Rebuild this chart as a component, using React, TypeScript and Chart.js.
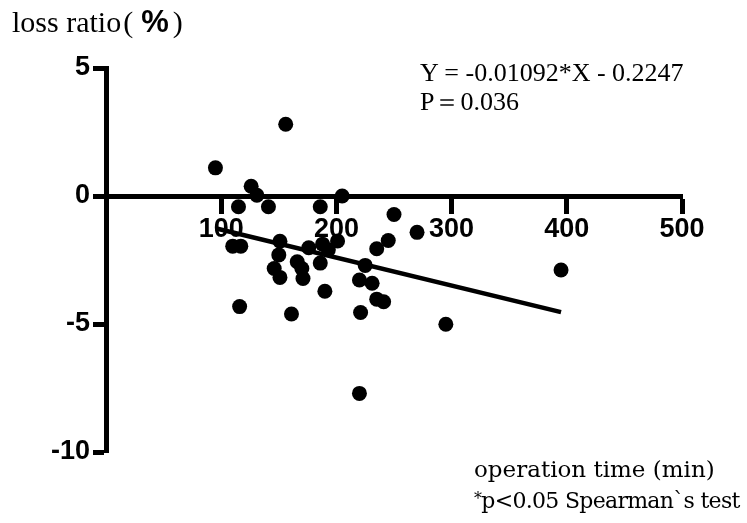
import React, { useEffect, useRef } from "react";
import { Chart, registerables } from "chart.js";

Chart.register(...registerables);

// operation time (min)
const operationTime = [
  95, 156, 126, 131, 115, 141, 186, 205, 250, 270, 245, 235, 201, 188, 176, 151,
  110, 117, 150, 146, 151, 166, 170, 171, 186, 193, 190, 220, 225, 231, 235, 241,
  221, 161, 116, 220, 295, 395,
];
// loss ratio (%)
const lossRatio = [
  1.1, 2.8, 0.38, 0.03, -0.42, -0.42, -0.42, 0.0, -0.72, -1.42, -1.74, -2.06, -1.76,
  -1.88, -2.02, -1.77, -1.96, -1.96, -2.3, -2.83, -3.18, -2.57, -2.83, -3.22, -2.62,
  -2.1, -3.72, -3.28, -2.71, -3.41, -4.03, -4.13, -4.55, -4.61, -4.32, -7.71, -5.01,
  -2.89,
];
// regression line end points
const fitX = [95, 395];
const fitY = [-1.262, -4.538];

const xTicks = [100, 200, 300, 400, 500];
const yTicks = [5, 0, -5, -10];

const W = 747;
const H = 523;

export default function App() {
  const ref = useRef<HTMLCanvasElement | null>(null);

  useEffect(() => {
    if (!ref.current) return;
    const axisFont = { family: "'Liberation Sans', Arial, sans-serif", size: 27, weight: "bold" as const };
    const chart = new Chart(ref.current, {
      type: "scatter",
      data: {
        datasets: [
          {
            label: "data",
            data: operationTime.map((x, i) => ({ x, y: lossRatio[i] })),
            backgroundColor: "#000",
            borderWidth: 0,
            pointRadius: 7.5,
            pointHoverRadius: 7.5,
            clip: false,
          } as any,
          {
            label: "fit",
            type: "line",
            data: fitX.map((x, i) => ({ x, y: fitY[i] })),
            borderColor: "#000",
            borderWidth: 4.5,
            pointRadius: 0,
            showLine: true,
            fill: false,
            clip: false,
          } as any,
        ],
      },
      options: {
        responsive: false,
        animation: false,
        events: [],
        layout: { padding: { left: 0, top: 68, right: 65, bottom: 71 } },
        plugins: { legend: { display: false }, tooltip: { enabled: false }, title: { display: false } },
        scales: {
          x: {
            type: "linear",
            position: { y: 0 } as any,
            min: 0,
            max: 500,
            afterBuildTicks: (s: any) => {
              s.ticks = xTicks.map((v) => ({ value: v }));
            },
            ticks: { color: "#000", font: axisFont, padding: 2, maxRotation: 0, autoSkip: false },
            grid: {
              display: true,
              drawOnChartArea: false,
              drawTicks: true,
              tickLength: 15,
              tickWidth: 5,
              tickColor: "#000",
            },
            border: { display: true, color: "#000", width: 5 },
          },
          y: {
            type: "linear",
            position: "left",
            min: -10,
            max: 5,
            afterBuildTicks: (s: any) => {
              s.ticks = yTicks.map((v) => ({ value: v }));
            },
            afterFit: (s: any) => {
              s.width = 106;
            },
            ticks: { color: "#000", font: axisFont, padding: 3, autoSkip: false },
            grid: {
              display: true,
              drawOnChartArea: false,
              drawTicks: true,
              tickLength: 13,
              tickWidth: 5,
              tickColor: "#000",
            },
            border: { display: true, color: "#000", width: 5 },
          },
        },
      },
    });
    return () => chart.destroy();
  }, []);

  const serif = "'Liberation Serif', 'Times New Roman', serif";
  const century = "'DejaVu Serif', serif";
  return (
    <div style={{ position: "absolute", left: 0, top: 0, width: W, height: H, background: "#fff" }}>
      <canvas ref={ref} width={W} height={H} style={{ width: W, height: H, display: "block" }} />
      <div
        style={{
          position: "absolute",
          left: 12,
          top: 7,
          fontFamily: serif,
          fontSize: 30,
          lineHeight: "30px",
          whiteSpace: "nowrap",
          color: "#000",
        }}
      >
        loss ratio
        <span style={{ marginLeft: 2 }}>(</span>
        <span
          style={{
            fontFamily: "'Liberation Sans', Arial, sans-serif",
            fontWeight: "bold",
            fontSize: 31,
            marginLeft: 8,
            marginRight: 4,
          }}
        >
          %
        </span>
        <span>)</span>
      </div>
      <div
        style={{
          position: "absolute",
          left: 420,
          top: 58,
          fontFamily: serif,
          fontSize: 26,
          lineHeight: "29px",
          whiteSpace: "nowrap",
          color: "#000",
        }}
      >
        <div>Y = -0.01092*X - 0.2247</div>
        <div>P＝0.036</div>
      </div>
      <div
        style={{
          position: "absolute",
          left: 474,
          top: 455,
          fontFamily: century,
          lineHeight: "29px",
          whiteSpace: "nowrap",
          color: "#000",
        }}
      >
        <div style={{ fontSize: 23 }}>operation time (min)</div>
        <div style={{ fontSize: 22, letterSpacing: -0.7 }}>
          <span style={{ fontSize: 16, verticalAlign: 4 }}>*</span>p&lt;0.05 Spearman`s test
        </div>
      </div>
    </div>
  );
}
